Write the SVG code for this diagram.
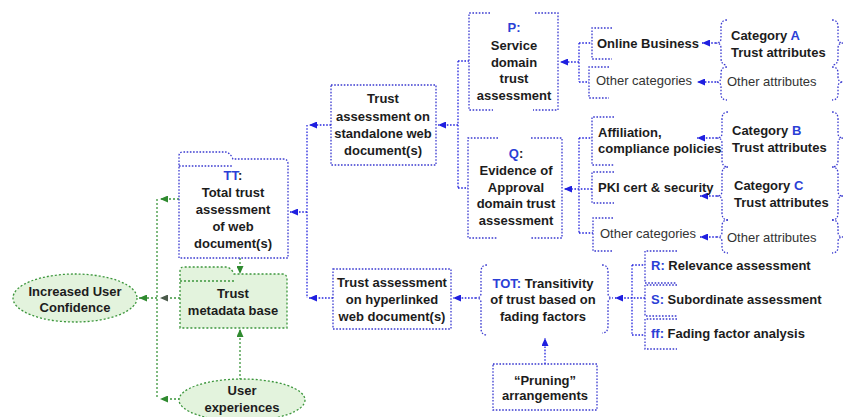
<svg xmlns="http://www.w3.org/2000/svg" width="843" height="417" viewBox="0 0 843 417">
<style>
text{font-family:"Liberation Sans",Arial,sans-serif;font-size:13px;fill:#1c1c1c}
.b{font-weight:bold}
.n{font-weight:normal;fill:#333}
.blue{fill:#2b3fd6}
.m{text-anchor:middle}
.bx{fill:none;stroke:#3a3ad0;stroke-width:1.3;stroke-dasharray:1.6 1.6}
.bl{fill:none;stroke:#2626de;stroke-width:1.3;stroke-dasharray:1.6 1.6}
.gr{fill:none;stroke:#3c963c;stroke-width:1.3;stroke-dasharray:2 2}
.gfill{fill:#e3f3dd;stroke:#3c963c;stroke-width:1.3;stroke-dasharray:2 2}
</style>
<defs>
<marker id="ab" markerUnits="userSpaceOnUse" markerWidth="9" markerHeight="7" refX="8" refY="3.5" orient="auto"><path d="M0,0 L8,3.5 L0,7 z" fill="#1f1fe0"/></marker>
<marker id="ag" markerUnits="userSpaceOnUse" markerWidth="9" markerHeight="7" refX="8" refY="3.5" orient="auto"><path d="M0,0 L8,3.5 L0,7 z" fill="#2f8a2f"/></marker>
<marker id="ad" markerUnits="userSpaceOnUse" markerWidth="9" markerHeight="7" refX="8" refY="3.5" orient="auto"><path d="M0,0 L8,3.5 L0,7 z" fill="#4a5a4a"/></marker>
</defs>
<rect width="843" height="417" fill="#ffffff"/>

<g id="connectors">
<!-- green -->
<path class="gr" d="M157 199 L157 399"/>
<path class="gr" d="M179 199 L160 199" marker-end="url(#ag)"/>
<path class="gr" d="M180 298 L160 298" marker-end="url(#ad)"/>
<path class="gr" d="M157 298 L139 298" marker-end="url(#ag)"/>
<path class="gr" d="M180 399 L160 399" marker-end="url(#ag)"/>
<path class="gr" d="M240 258 L240 274" marker-end="url(#ag)"/>
<path class="gr" d="M240 380 L240 329" marker-end="url(#ag)"/>
<!-- blue -->
<path class="bl" d="M307 125 L307 298"/>
<path class="bl" d="M331 125 L309 125" marker-end="url(#ab)"/>
<path class="bl" d="M333 298 L309 298" marker-end="url(#ab)"/>
<path class="bl" d="M307 212 L290 212" marker-end="url(#ab)"/>
<path class="bl" d="M458 61 L458 188 M458 61 L469 61 M458 188 L468 188"/>
<path class="bl" d="M458 125 L438 125" marker-end="url(#ab)"/>
<path class="bl" d="M579 43 L579 82 M579 43 L592 43 M579 82 L589 82"/>
<path class="bl" d="M579 62 L560 62" marker-end="url(#ab)"/>
<path class="bl" d="M579 138 L579 233 M579 138 L592 138 M579 233 L593 233"/>
<path class="bl" d="M592 189 L564 189" marker-end="url(#ab)"/>
<path class="bl" d="M716 43 L702 43" marker-end="url(#ab)"/>
<path class="bl" d="M716 82 L697 82" marker-end="url(#ab)"/>
<path class="bl" d="M717 138 L697 138" marker-end="url(#ab)"/>
<path class="bl" d="M717 196 L700 196" marker-end="url(#ab)"/>
<path class="bl" d="M717 237 L700 237" marker-end="url(#ab)"/>
<path class="bl" d="M476 298 L453 298" marker-end="url(#ab)"/>
<path class="bl" d="M632 265 L632 335 M632 265 L645 265 M632 335 L645 335"/>
<path class="bl" d="M645 298 L615 298" marker-end="url(#ab)"/>
<path class="bl" d="M545 364 L545 338" marker-end="url(#ab)"/>
</g>

<g id="increased-confidence">
<ellipse cx="75" cy="298" rx="62" ry="24" class="gfill"/>
<text class="b m" x="75" y="296">Increased User</text>
<text class="b m" x="75" y="312">Confidence</text>
</g>

<g id="user-experiences">
<ellipse cx="242" cy="400" rx="63" ry="21" class="gfill"/>
<text class="b m" x="242" y="395">User</text>
<text class="b m" x="242" y="412">experiences</text>
</g>

<g id="tt">
<path class="bx" fill="#fff" d="M179 258 L179 156 Q179 152 183 152 L225 152 Q229 152 232 157 L233 159 L283 159 Q288 159 288 164 L288 258 Z"/>
<path class="bx" d="M179 166 L233 166"/>
<text class="b m" x="233" y="180"><tspan class="blue">TT</tspan>:</text>
<text class="b m" x="233" y="197">Total trust</text>
<text class="b m" x="233" y="214">assessment</text>
<text class="b m" x="233" y="231">of web</text>
<text class="b m" x="233" y="248">document(s)</text>
</g>

<g id="metadata">
<path class="gfill" d="M180 328 L180 271 Q180 267 184 267 L226 267 Q230 267 233 272 L234 274 L282 274 Q287 274 287 279 L287 328 Z"/>
<path class="gr" d="M180 281 L234 281"/>
<text class="b m" x="233" y="298">Trust</text>
<text class="b m" x="233" y="315">metadata base</text>
</g>

<g id="standalone">
<rect class="bx" x="331" y="85" width="105" height="80"/>
<text class="b m" x="383" y="103">Trust</text>
<text class="b m" x="383" y="121">assessment on</text>
<text class="b m" x="383" y="138">standalone web</text>
<text class="b m" x="383" y="155">document(s)</text>
</g>

<g id="hyperlinked">
<rect class="bx" x="333" y="269" width="118" height="60"/>
<text class="b m" x="392" y="287">Trust assessment</text>
<text class="b m" x="392" y="304">on hyperlinked</text>
<text class="b m" x="392" y="321">web document(s)</text>
</g>

<g id="p">
<path class="bx" d="M490 13 L469 13 L469 110 L493 110 M535 13 L558 13 L558 110 L533 110"/>
<text class="b m" x="514" y="32"><tspan class="blue">P:</tspan></text>
<text class="b m" x="514" y="50">Service</text>
<text class="b m" x="514" y="67">domain</text>
<text class="b m" x="514" y="83">trust</text>
<text class="b m" x="514" y="100">assessment</text>
</g>

<g id="q">
<path class="bx" d="M498 138 L468 138 L468 238 L498 238 M531 138 L562 138 L562 238 L530 238"/>
<text class="b m" x="516" y="158"><tspan class="blue">Q</tspan>:</text>
<text class="b m" x="516" y="175">Evidence of</text>
<text class="b m" x="516" y="192">Approval</text>
<text class="b m" x="516" y="208">domain trust</text>
<text class="b m" x="516" y="225">assessment</text>
</g>

<g id="online-business">
<path class="bx" d="M612 28 L592 28 L592 59 L612 59"/>
<text class="b" x="597" y="48">Online Business</text>
</g>
<g id="other-categories-1">
<path class="bx" d="M609 67 L589 67 L589 98 L609 98"/>
<text class="n" x="596" y="85">Other categories</text>
</g>
<g id="affiliation">
<path class="bx" d="M614 117 L592 117 L592 165 L614 165"/>
<text class="b" x="598" y="137">Affiliation,</text>
<text class="b" x="598" y="153">compliance policies</text>
</g>
<g id="pki">
<path class="bx" d="M614 172 L592 172 L592 203 L614 203"/>
<text class="b" x="598" y="192">PKI cert &amp; security</text>
</g>
<g id="other-categories-2">
<path class="bx" d="M613 218 L593 218 L593 251 L613 251"/>
<text class="n" x="600" y="238">Other categories</text>
</g>

<g id="category-a">
<path class="bx" d="M727 20 Q721 20 721 27 L721 38 Q721 43 716 43 Q721 43 721 48 L721 58 Q721 65 727 65"/>
<path class="bx" d="M832 20 Q838 20 838 27 L838 38 Q838 43 843 43 Q838 43 838 48 L838 58 Q838 65 832 65"/>
<text class="b" x="731" y="40">Category <tspan class="blue">A</tspan></text>
<text class="b" x="731" y="57">Trust attributes</text>
</g>
<g id="other-attributes-1">
<path class="bx" d="M727 67 Q721 67 721 73 L721 77 Q721 82 716 82 Q721 82 721 87 L721 94 Q721 100 727 100"/>
<path class="bx" d="M832 67 Q838 67 838 73 L838 77 Q838 82 843 82 Q838 82 838 87 L838 94 Q838 100 832 100"/>
<text class="n" x="727" y="86">Other attributes</text>
</g>
<g id="category-b">
<path class="bx" d="M728 112 Q722 112 722 119 L722 133 Q722 138 717 138 Q722 138 722 143 L722 160 Q722 167 728 167"/>
<path class="bx" d="M832 112 Q838 112 838 119 L838 133 Q838 138 843 138 Q838 138 838 143 L838 160 Q838 167 832 167"/>
<text class="b" x="732" y="135">Category <tspan class="blue">B</tspan></text>
<text class="b" x="732" y="152">Trust attributes</text>
</g>
<g id="category-c">
<path class="bx" d="M728 167 Q722 167 722 174 L722 191 Q722 196 717 196 Q722 196 722 201 L722 213 Q722 220 728 220"/>
<path class="bx" d="M832 167 Q838 167 838 174 L838 191 Q838 196 843 196 Q838 196 838 201 L838 213 Q838 220 832 220"/>
<text class="b" x="734" y="190">Category <tspan class="blue">C</tspan></text>
<text class="b" x="734" y="207">Trust attributes</text>
</g>
<g id="other-attributes-2">
<path class="bx" d="M728 220 Q722 220 722 226 L722 232 Q722 237 717 237 Q722 237 722 242 L722 247 Q722 253 728 253"/>
<path class="bx" d="M832 220 Q838 220 838 226 L838 232 Q838 237 843 237 Q838 237 838 242 L838 247 Q838 253 832 253"/>
<text class="n" x="727" y="242">Other attributes</text>
</g>

<g id="tot">
<path class="bx" d="M487 265 Q481 265 481 272 L481 293 Q481 298 476 298 Q481 298 481 303 L481 328 Q481 335 487 335"/>
<path class="bx" d="M602 265 Q608 265 608 272 L608 293 Q608 298 613 298 Q608 298 608 303 L608 326 Q608 333 602 333"/>
<text class="b m" x="543" y="288"><tspan class="blue">TOT:</tspan> Transitivity</text>
<text class="b m" x="543" y="304">of trust based on</text>
<text class="b m" x="543" y="321">fading factors</text>
</g>

<g id="pruning">
<rect class="bx" x="493" y="364" width="104" height="46"/>
<text class="b m" x="545" y="385">“Pruning”</text>
<text class="b m" x="545" y="400">arrangements</text>
</g>

<g id="r">
<path class="bx" d="M677 251 L645 251 L645 283 L677 283"/>
<text class="b" x="651" y="270"><tspan class="blue">R:</tspan> Relevance assessment</text>
</g>
<g id="s">
<path class="bx" d="M677 285 L645 285 L645 316 L677 316"/>
<text class="b" x="651" y="304"><tspan class="blue">S:</tspan> Subordinate assessment</text>
</g>
<g id="ff">
<path class="bx" d="M677 319 L645 319 L645 349 L677 349"/>
<text class="b" x="651" y="338"><tspan class="blue">ff:</tspan> Fading factor analysis</text>
</g>
</svg>
